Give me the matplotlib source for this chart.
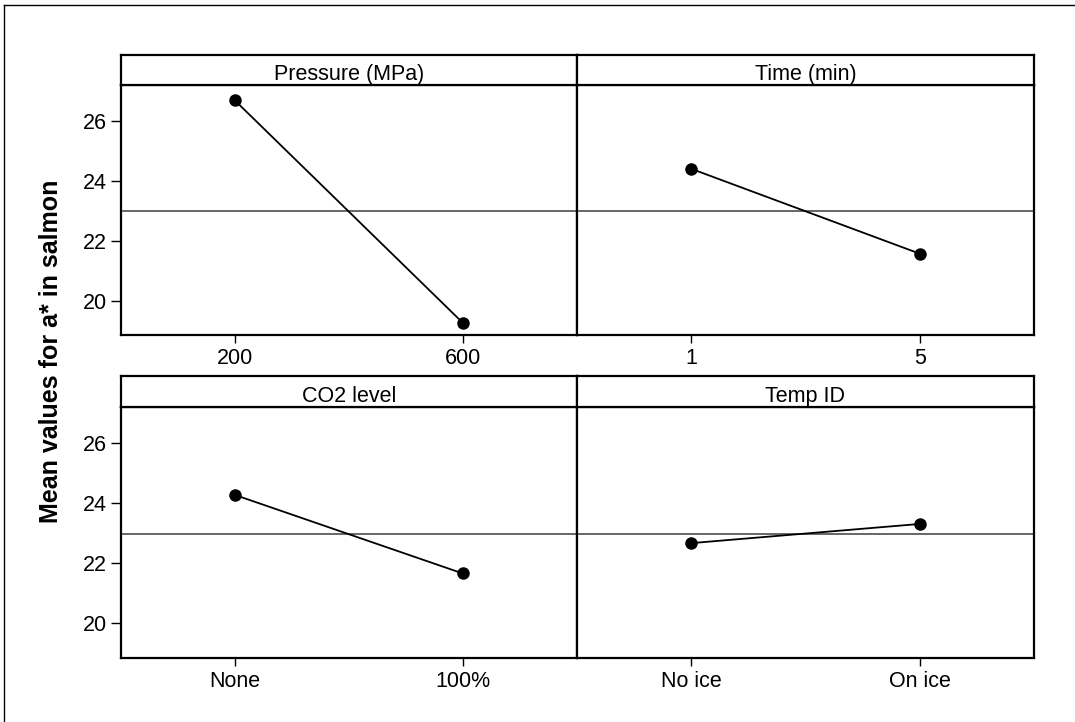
import matplotlib
matplotlib.use("Agg")
import matplotlib.pyplot as plt
from matplotlib.lines import Line2D

plt.rcParams['font.family'] = ['Liberation Sans', 'DejaVu Sans']

# ---- data ----
factor_names = ['Pressure (MPa)', 'Time (min)', 'CO2 level', 'Temp ID']
pressure_levels = ['200', '600']
time_levels = ['1', '5']
co2_levels = ['None', '100%']
temp_levels = ['No ice', 'On ice']
pressure_means = [26.71, 19.27]
time_means = [24.42, 21.58]
co2_means = [24.28, 21.66]
temp_means = [22.67, 23.31]
grand_mean = 22.99
y_ticks = [20, 22, 24, 26]
y_label = 'Mean values for a* in salmon'

levels_all = [pressure_levels, time_levels, co2_levels, temp_levels]
means_all = [pressure_means, time_means, co2_means, temp_means]

W, H = 1075, 722
fig = plt.figure(figsize=(W / 100, H / 100), dpi=100)
fig.patch.set_facecolor('white')

def fx(px):
    return px / W

def fy(py):
    return 1 - py / H

# outer frame (left and top lines)
fig.add_artist(Line2D([fx(4), fx(4)], [fy(5), 0], transform=fig.transFigure, color='black', lw=1.0))
fig.add_artist(Line2D([fx(4), 1], [fy(5), fy(5)], transform=fig.transFigure, color='black', lw=1.0))

col_x = [(120.7, 576.7), (576.7, 1034.0)]
row_y = [(54.7, 85.0, 335.3), (376.0, 406.7, 657.7)]
ylim = (18.85, 27.22)
fs = 15.5

for i in range(4):
    r, c = divmod(i, 2)
    x0, x1 = col_x[c]
    st, pt, pb = row_y[r]
    ax = fig.add_axes([fx(x0), fy(pb), fx(x1) - fx(x0), (pb - pt) / H])
    sax = fig.add_axes([fx(x0), fy(pt), fx(x1) - fx(x0), (pt - st) / H])
    # strip
    sax.set_xticks([])
    sax.set_yticks([])
    for s in sax.spines.values():
        s.set_linewidth(1.6)
    sax.text(0.5, 0.16, factor_names[i], ha='center', va='baseline', fontsize=fs,
             transform=sax.transAxes)
    # plot
    xs = list(range(len(levels_all[i])))
    ax.axhline(grand_mean, color='#5a5a5a', lw=1.3, zorder=1)
    ax.plot(xs, means_all[i], color='black', lw=1.3, marker='o', markersize=8, zorder=3)
    ax.set_xlim(-0.5, 1.5)
    ax.set_ylim(*ylim)
    ax.set_xticks(xs)
    ax.set_xticklabels(levels_all[i], fontsize=fs)
    ax.tick_params(axis='x', direction='out', length=6, width=1, pad=3.5)
    if c == 0:
        ax.set_yticks(y_ticks)
        ax.set_yticklabels([str(t) for t in y_ticks], fontsize=fs)
        ax.tick_params(axis='y', direction='out', length=7, width=1, pad=3)
    else:
        ax.set_yticks([])
    for s in ax.spines.values():
        s.set_linewidth(1.6)

fig.text(fx(51), fy(351), y_label, rotation=90, ha='center', va='center',
         fontsize=18, fontweight='bold')

fig.savefig('out.png', dpi=100, facecolor='white')
